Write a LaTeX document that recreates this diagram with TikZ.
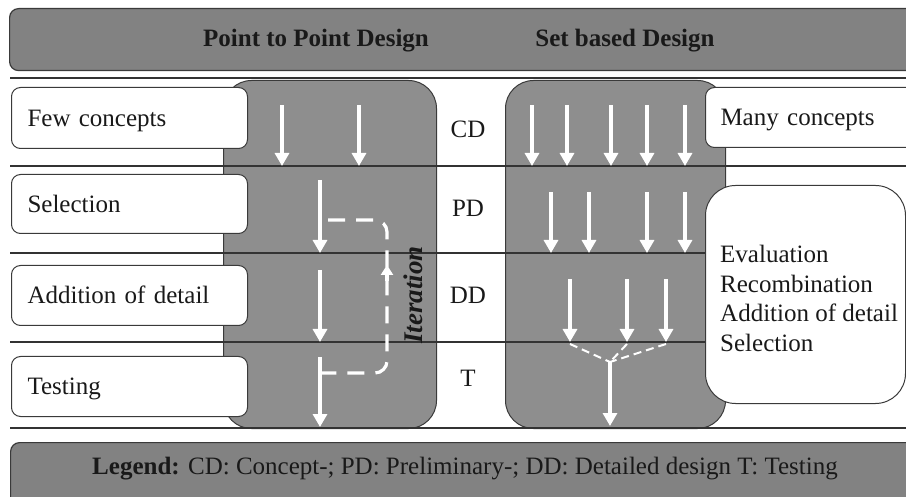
\documentclass[tikz,border=0pt]{standalone}
\usepackage{fontspec}
\setmainfont{Liberation Serif}
\usetikzlibrary{arrows.meta}
\definecolor{panelgray}{RGB}{142,142,142}
\definecolor{bannergray}{RGB}{130,130,130}
\definecolor{edgegray}{RGB}{58,58,58}

\begin{document}
\begin{tikzpicture}[x=1pt,y=-1pt,
  txt/.style={font=\fontsize{25}{29.5}\selectfont, text=black!90, inner sep=0pt},
  heading/.style={txt, font=\fontsize{25}{29.5}\selectfont\bfseries},
  banner/.style={fill=bannergray, draw=edgegray, line width=1.2pt, rounded corners=9pt},
  panel/.style={fill=panelgray, draw=edgegray, line width=1pt, rounded corners=28pt},
  stagebox/.style={txt, fill=white, draw=edgegray, line width=1pt, rounded corners=9pt,
    align=left, text height=16.5pt, text depth=0pt},
  divider/.style={draw=black!80, line width=1.3pt},
  flow/.style={draw=white, line width=3.2pt, -{Triangle[width=14pt,length=13pt]}},
  loopline/.style={draw=white, line width=3.2pt, dash pattern=on 17pt off 11pt, rounded corners=12pt},
  merge/.style={draw=white, line width=2pt, dash pattern=on 8pt off 5pt},
]
\useasboundingbox (0,0) rectangle (906,497);
\clip (0,0) rectangle (906,497);

% title and legend bars
\node[banner, anchor=north west, minimum width=930pt, minimum height=62pt] (topbar) at (9,8) {};
\node[banner, anchor=north west, minimum width=930pt, minimum height=70pt] (legendbar) at (10,442) {};

% the two design panels
\node[panel, anchor=north west, minimum width=213pt, minimum height=348pt] (ptppanel) at (223,80) {};
\node[panel, anchor=north west, minimum width=220pt, minimum height=348pt] (setpanel) at (505,80) {};

% phase dividers
\foreach \y in {78,166,253,342,428} \draw[divider] (10,\y) -- (906,\y);

% point-to-point activities
\node[stagebox, anchor=north west, text width=204pt, inner xsep=16pt, minimum height=61pt] (few) at (11,87) {Few concepts};
\node[stagebox, anchor=north west, text width=204pt, inner xsep=16pt, minimum height=59pt] (select) at (11,174) {Selection};
\node[stagebox, anchor=north west, text width=204pt, inner xsep=16pt, minimum height=60pt] (detail) at (11,265) {Addition of detail};
\node[stagebox, anchor=north west, text width=204pt, inner xsep=16pt, minimum height=60pt] (testing) at (11,356) {Testing};

% set-based activities
\node[stagebox, anchor=north west, text width=190pt, inner xsep=15pt, minimum height=60pt] (many) at (705,87) {Many concepts};
\node[stagebox, anchor=north west, minimum width=200pt, minimum height=218pt, rounded corners=30pt] (activities) at (705,185) {};
\node[txt, anchor=north west, align=left] (activitylist) at (720,245) {Evaluation\\Recombination\\Addition of detail\\Selection};

% headings and legend
\node[heading, anchor=base] (ptptitle) at (316,47) {Point to Point Design};
\node[heading, anchor=base] (settitle) at (625,47) {Set based Design};
\node[txt, anchor=base] (legend) at (465,474) {\textbf{Legend:} CD: Concept-; PD: Preliminary-; DD: Detailed design T: Testing};

% phase labels
\node[txt, anchor=base] (cd) at (468,138) {CD};
\node[txt, anchor=base] (pd) at (468,217) {PD};
\node[txt, anchor=base] (dd) at (468,304) {DD};
\node[txt, anchor=base] (tt) at (468,387) {T};

% point-to-point flow
\foreach \x in {282,359} \draw[flow] (\x,105) -- (\x,166);
\draw[flow] (320,180) -- (320,253);
\draw[flow] (320,270) -- (320,342);
\draw[flow] (320,357) -- (320,427);
\draw[loopline] (328,220) -- (387,220) -- (387,373) -- (322,373);
\draw[white, line width=3.2pt, -{Triangle[width=12pt,length=10pt]}] (387,281) -- (387,265);
\node[font=\fontsize{27}{30}\selectfont\bfseries\itshape, text=black!90, inner sep=0pt, rotate=90, anchor=base] (iteration) at (422,295) {Iteration};

% set-based flow
\foreach \x in {532,567,611,647,685} \draw[flow] (\x,105) -- (\x,166);
\foreach \x in {551,589,647,685} \draw[flow] (\x,192) -- (\x,253);
\foreach \x in {570,627,666} \draw[flow] (\x,279) -- (\x,342);
\coordinate (join) at (610,362);
\foreach \x in {570,627,666} \draw[merge] (\x,344) -- (join);
\draw[flow] (join) -- (610,426);
\end{tikzpicture}
\end{document}
